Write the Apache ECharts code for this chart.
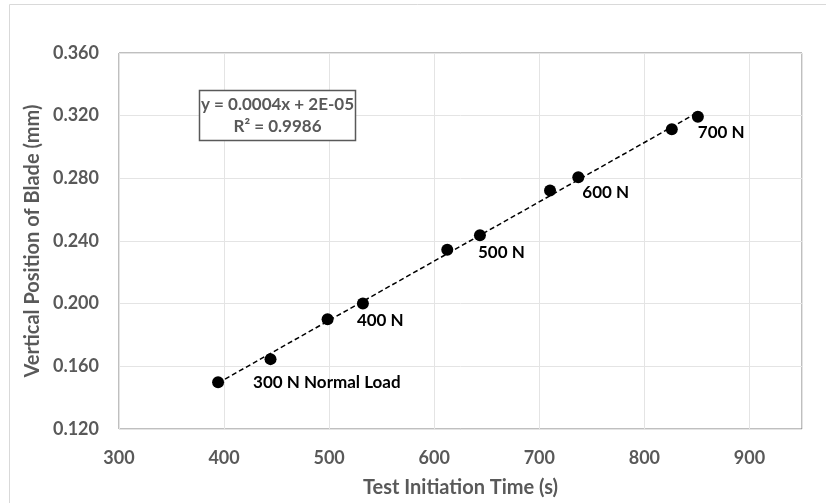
<!DOCTYPE html>
<html>
<head>
<meta charset="utf-8">
<script src="https://cdn.jsdelivr.net/npm/echarts@6/dist/echarts.min.js"></script>
<style>
  html, body { margin: 0; padding: 0; background: #fff; }
  #chart { width: 826px; height: 503px; }
</style>
</head>
<body>
<div id="chart"></div>
<script>
// data
const testTimes = [394.3, 444.2, 498.5, 532.1, 612.4, 643.5, 710.2, 737.1, 826.1, 850.9]
const bladePositions = [0.1499, 0.1646, 0.1901, 0.2001, 0.2344, 0.2436, 0.2722, 0.2807, 0.3113, 0.3193]
const loadLabels = ['300 N Normal Load', '', '', '400 N', '', '500 N', '', '600 N', '', '700 N']
const yTicks = [0.120, 0.160, 0.200, 0.240, 0.280, 0.320, 0.360]
const xTicks = [300, 400, 500, 600, 700, 800, 900]
const equationText = 'y = 0.0004x + 2E-05\nR² = 0.9986'

// least squares trendline, drawn over the data range like Excel does
const n = testTimes.length
const mx = testTimes.reduce((s, v) => s + v, 0) / n
const my = bladePositions.reduce((s, v) => s + v, 0) / n
let sxy = 0, sxx = 0
testTimes.forEach((x, i) => {
  sxy += (x - mx) * (bladePositions[i] - my)
  sxx += (x - mx) * (x - mx)
})
const slope = sxy / sxx
const intercept = my - slope * mx
const x0 = Math.min(...testTimes)
const x1 = Math.max(...testTimes)
const trend = [[x0, intercept + slope * x0], [x1, intercept + slope * x1]]

// label nudges (px), keyed by point index
const labelOffsets = { 0: [35, 0], 3: [-6, 17], 5: [-2, 17], 7: [4, 15], 9: [0, 16] }

const font = 'Lato, "Open Sans", sans-serif'
const grey = '#595959'

const chart = echarts.init(document.getElementById('chart'))

chart.setOption({
  animation: false,
  grid: {
    left: 119, top: 53, right: 24, bottom: 72,
    show: true, borderColor: '#7f7f7f', borderWidth: 1
  },
  xAxis: {
    type: 'value',
    min: 300, max: 950, interval: 100,
    name: 'Test Initiation Time (s)',
    nameLocation: 'middle',
    nameGap: 49,
    nameTextStyle: { color: grey, fontFamily: font, fontWeight: 'bold', fontSize: 20 },
    axisLine: { show: false },
    axisTick: { show: false },
    axisLabel: {
      color: grey, fontFamily: font, fontWeight: 'bold', fontSize: 18, margin: 20,
      showMaxLabel: false,
      formatter: v => (xTicks.includes(v) ? String(v) : '')
    },
    splitLine: { lineStyle: { color: '#e4e4e4', width: 1 } }
  },
  yAxis: {
    type: 'value',
    min: 0.12, max: 0.36, interval: 0.04,
    name: 'Vertical Position of Blade (mm)',
    nameLocation: 'middle',
    nameGap: 76,
    nameTextStyle: { color: grey, fontFamily: font, fontWeight: 'bold', fontSize: 20 },
    axisLine: { show: false },
    axisTick: { show: false },
    axisLabel: {
      color: grey, fontFamily: font, fontWeight: 'bold', fontSize: 18, margin: 20,
      formatter: v => {
        const t = yTicks.find(k => Math.abs(k - v) < 1e-9)
        return t === undefined ? '' : t.toFixed(3)
      }
    },
    splitLine: { lineStyle: { color: '#e4e4e4', width: 1 } }
  },
  graphic: [
    {
      // chart area border, partly cut off like the screenshot
      type: 'polyline',
      shape: { points: [[9.5, 503], [9.5, 4.5], [826, 4.5]] },
      style: { stroke: '#d9d9d9', lineWidth: 1, fill: null },
      z: 0
    },
    {
      type: 'rect',
      shape: { x: 199.5, y: 90.5, width: 156, height: 50 },
      style: { fill: '#fff', stroke: grey, lineWidth: 1.5 },
      z: 10
    },
    {
      type: 'text',
      x: 277.5, y: 115.5,
      style: {
        text: equationText,
        align: 'center', verticalAlign: 'middle',
        fill: grey, font: 'bold 17px ' + font, lineHeight: 22
      },
      z: 11
    }
  ],
  series: [
    {
      name: 'Trendline',
      type: 'line',
      data: trend,
      symbol: 'none',
      silent: true,
      lineStyle: { color: '#000', width: 1.5, type: [5, 3] },
      z: 2
    },
    {
      name: 'Blade position',
      type: 'scatter',
      symbol: 'circle',
      symbolSize: 12,
      itemStyle: { color: '#000', opacity: 1 },
      z: 3,
      data: testTimes.map((x, i) => {
        const item = { value: [x, bladePositions[i]] }
        if (loadLabels[i]) {
          item.label = {
            show: true,
            formatter: loadLabels[i],
            position: 'inside',
            align: 'left',
            verticalAlign: 'middle',
            offset: labelOffsets[i],
            color: '#000',
            fontFamily: font,
            fontWeight: 'bold',
            fontSize: 17
          }
        }
        return item
      })
    }
  ]
})
</script>
</body>
</html>
